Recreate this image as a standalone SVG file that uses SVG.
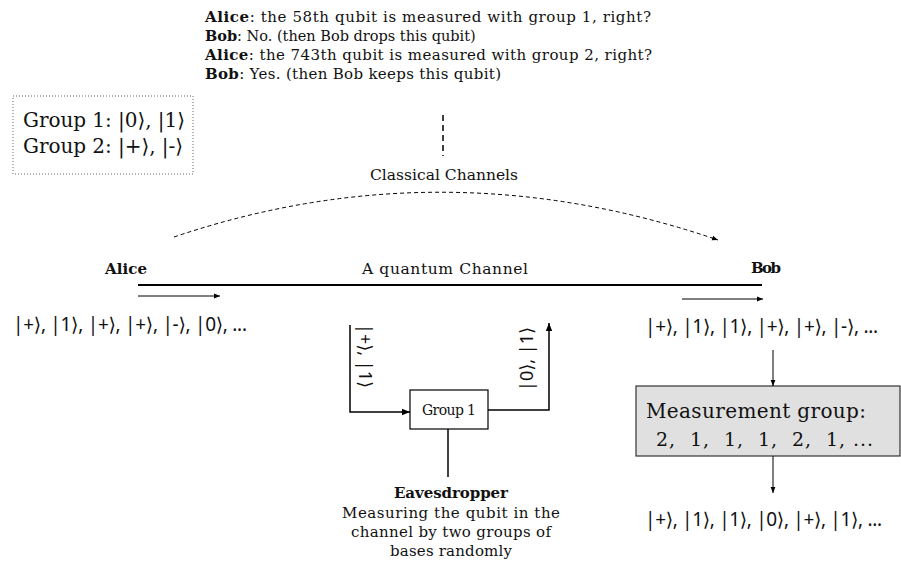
<svg xmlns="http://www.w3.org/2000/svg" width="901" height="571" viewBox="0 0 901 571">
<style>
.ser{font-family:"DejaVu Serif","Liberation Serif",serif;fill:#111}
.seq{font-family:"Noto Sans","DejaVu Sans",sans-serif;fill:#111}
.b{font-weight:bold}
.ln{stroke:#000;fill:none}
.pre{white-space:pre}
</style>
<defs>
<marker id="ah" viewBox="0 0 10 10" refX="10" refY="5" markerWidth="8" markerHeight="8" orient="auto" markerUnits="userSpaceOnUse"><path d="M0,1 L10,5 L0,9 z" fill="#000"/></marker>
<marker id="as" viewBox="0 0 10 10" refX="10" refY="5" markerWidth="6" markerHeight="6" orient="auto" markerUnits="userSpaceOnUse"><path d="M0,1 L10,5 L0,9 z" fill="#000"/></marker>
</defs>

<g id="dialog">
<text class="ser" font-size="15" x="205" y="22" textLength="446"><tspan class="b">Alice</tspan>: the 58th qubit is measured with group 1, right?</text>
<text class="ser" font-size="14.5" x="205" y="41"><tspan class="b">Bob</tspan>: No. (then Bob drops this qubit)</text>
<text class="ser" font-size="15" x="205" y="60" textLength="447"><tspan class="b">Alice</tspan>: the 743th qubit is measured with group 2, right?</text>
<text class="ser" font-size="15" x="205" y="79" textLength="296"><tspan class="b">Bob</tspan>: Yes. (then Bob keeps this qubit)</text>
</g>

<g id="groups">
<rect x="13" y="96" width="180" height="78" fill="none" stroke="#666" stroke-dasharray="1,2"/>
<text class="ser" font-size="20" x="23" y="127" textLength="162">Group 1: |0⟩, |1⟩</text>
<text class="ser" font-size="20" x="23" y="153" textLength="160">Group 2: |+⟩, |-⟩</text>
</g>

<g id="classical">
<text class="ser" font-size="15.5" x="444" y="180" text-anchor="middle" textLength="148">Classical Channels</text>
</g>

<g id="alice">
<text class="ser b" font-size="15" x="105" y="274" textLength="42">Alice</text>
<text class="seq" font-size="19" x="13" y="331" textLength="234">|+⟩, |1⟩, |+⟩, |+⟩, |-⟩, |0⟩, ...</text>
</g>

<g id="channel">
<text class="ser" font-size="15.5" x="445" y="274" text-anchor="middle" textLength="166">A quantum Channel</text>
</g>

<g id="bob">
<text class="ser b" font-size="15" x="751" y="273" textLength="30">Bob</text>
<text class="seq" font-size="19" x="645" y="333" textLength="233">|+⟩, |1⟩, |1⟩, |+⟩, |+⟩, |-⟩, ...</text>
</g>

<g id="measurement">
<rect x="636" y="386" width="264" height="70" fill="#e0e0e0" stroke="#333" stroke-width="1.2"/>
<text class="ser" font-size="20" x="646" y="418" textLength="220">Measurement group:</text>
<text class="ser pre" font-size="19" x="656" y="446" textLength="217">2,  1,  1,  1,  2,  1, ...</text>
</g>

<g id="result">
<text class="seq" font-size="19" x="645" y="526" textLength="237">|+⟩, |1⟩, |1⟩, |0⟩, |+⟩, |1⟩, ...</text>
</g>

<g id="eve-box">
<rect x="410" y="390" width="78" height="39" fill="#fff" stroke="#000" stroke-width="1.2"/>
<text class="ser" font-size="14" x="449" y="415" text-anchor="middle" textLength="54">Group 1</text>
</g>

<g id="eve-in-label">
<text class="seq" font-size="18" transform="translate(366,356) rotate(90)" text-anchor="middle" dominant-baseline="central">|+⟩, |1⟩</text>
</g>
<g id="eve-out-label">
<text class="seq" font-size="18" transform="translate(526,359) rotate(-90)" text-anchor="middle" dominant-baseline="central">|0⟩, |1⟩</text>
</g>

<g id="eavesdropper">
<text class="ser b" font-size="15" x="451" y="498" text-anchor="middle" textLength="114">Eavesdropper</text>
<text class="ser" font-size="15" x="451" y="518" text-anchor="middle" textLength="218">Measuring the qubit in the</text>
<text class="ser" font-size="15" x="451" y="537" text-anchor="middle" textLength="200">channel by two groups of</text>
<text class="ser" font-size="15" x="451" y="556" text-anchor="middle" textLength="122">bases randomly</text>
</g>

<g id="connectors">
<line class="ln" x1="443" y1="115" x2="443" y2="156" stroke-width="1.5" stroke-dasharray="6,4"/>
<path class="ln" d="M174,237 Q443,146 718,240" stroke-width="1" stroke-dasharray="4,3" marker-end="url(#as)"/>
<line class="ln" x1="138" y1="285" x2="762" y2="285" stroke-width="2"/>
<line class="ln" x1="138" y1="296" x2="220" y2="296" stroke-width="1" marker-end="url(#as)"/>
<line class="ln" x1="682" y1="299" x2="763" y2="299" stroke-width="1" marker-end="url(#as)"/>
<line class="ln" x1="773" y1="350" x2="773" y2="386" stroke-width="1" marker-end="url(#as)"/>
<line class="ln" x1="773" y1="456" x2="773" y2="493" stroke-width="1" marker-end="url(#as)"/>
<path class="ln" d="M350,325 V412 H410" stroke-width="1.5" marker-end="url(#ah)"/>
<path class="ln" d="M488,410 H549 V323" stroke-width="1.5" marker-end="url(#ah)"/>
<line class="ln" x1="448" y1="429" x2="448" y2="477" stroke-width="1.5"/>
</g>
</svg>
